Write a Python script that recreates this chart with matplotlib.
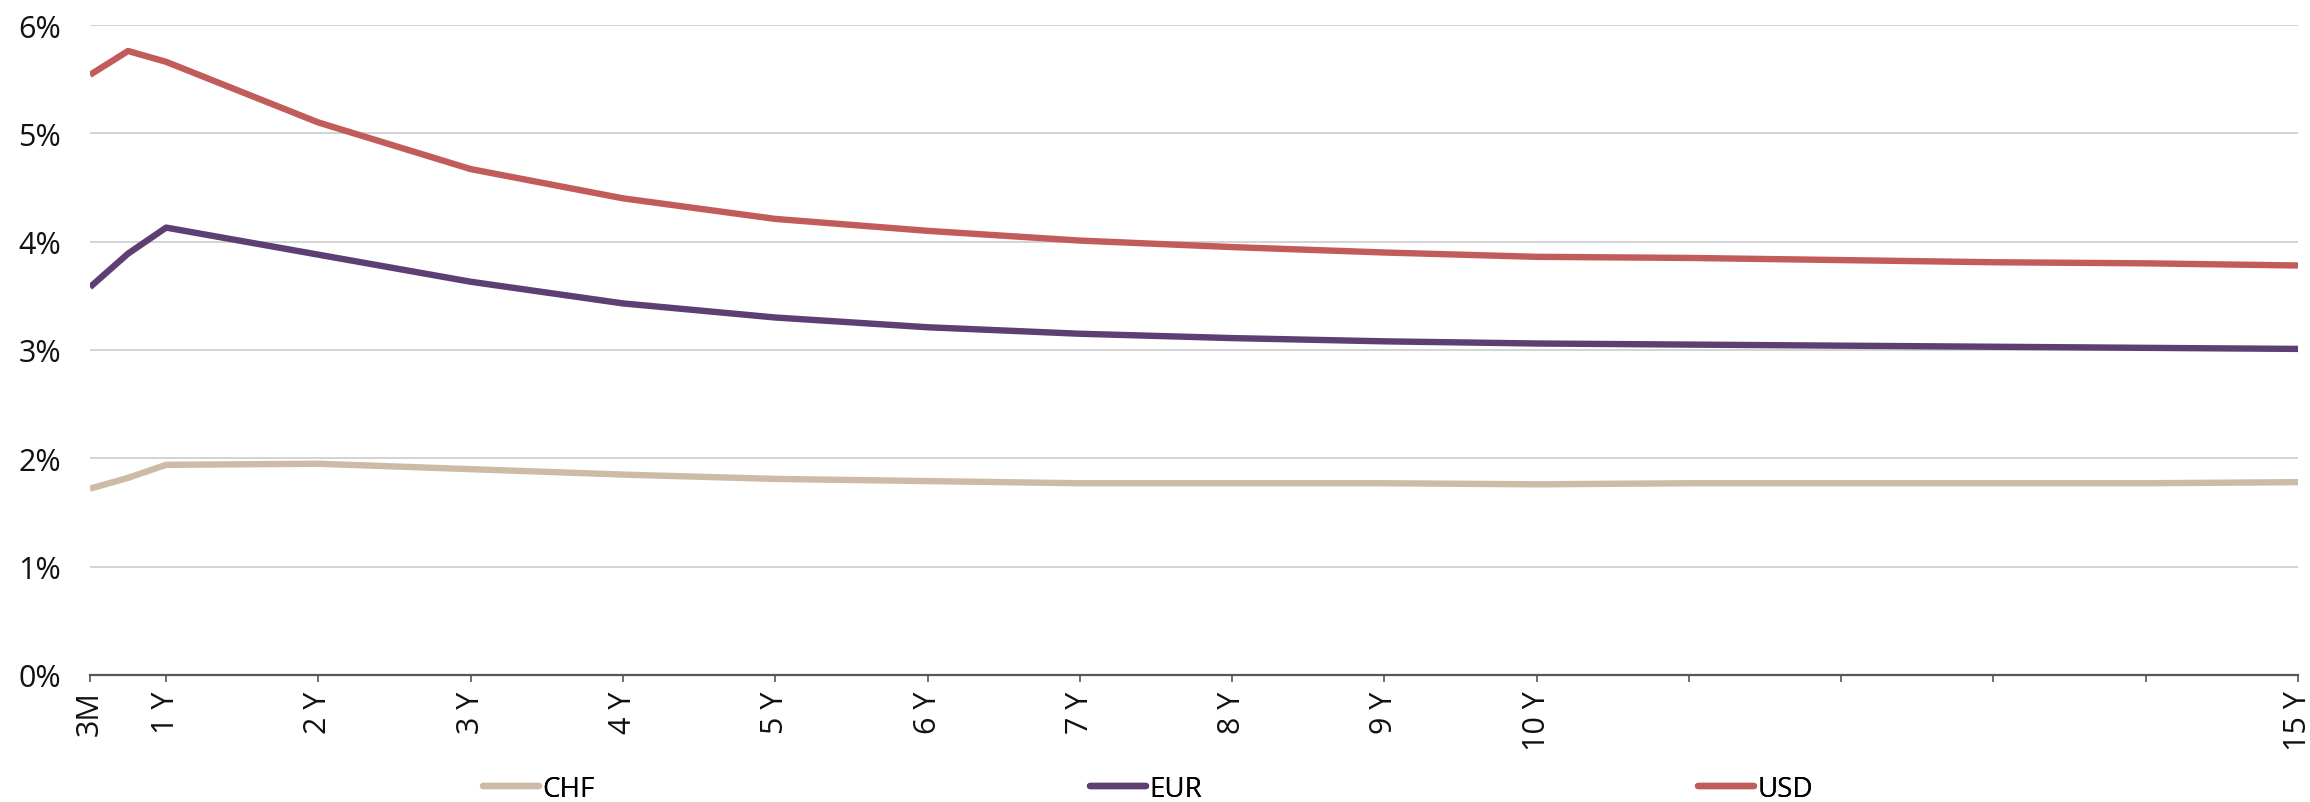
import matplotlib
matplotlib.use("Agg")
import matplotlib.pyplot as plt
from matplotlib.lines import Line2D

# ---- data ----
tenor_labels = ["3M", "6M", "1 Y", "2 Y", "3 Y", "4 Y", "5 Y", "6 Y", "7 Y", "8 Y",
                "9 Y", "10 Y", "11 Y", "12 Y", "13 Y", "14 Y", "15 Y"]
tenor_pos = [0.5, 0.75, 1, 2, 3, 4, 5, 6, 7, 8, 9, 10, 11, 12, 13, 14, 15]
chf = [1.72, 1.82, 1.94, 1.95, 1.90, 1.85, 1.81, 1.79, 1.77, 1.77, 1.77, 1.76,
       1.77, 1.77, 1.77, 1.77, 1.78]
eur = [3.58, 3.89, 4.13, 3.88, 3.63, 3.43, 3.30, 3.21, 3.15, 3.11, 3.08, 3.06,
       3.05, 3.04, 3.03, 3.02, 3.01]
usd = [5.54, 5.76, 5.66, 5.10, 4.67, 4.40, 4.21, 4.10, 4.01, 3.95, 3.90, 3.86,
       3.85, 3.83, 3.81, 3.80, 3.78]
xtick_pos = [0.5, 1, 2, 3, 4, 5, 6, 7, 8, 9, 10, 11, 12, 13, 14, 15]
xtick_labels = ["3M", "1 Y", "2 Y", "3 Y", "4 Y", "5 Y", "6 Y", "7 Y", "8 Y", "9 Y",
                "10 Y", "", "", "", "", "15 Y"]
yticks = [0, 1, 2, 3, 4, 5, 6]
ytick_labels = ["0%", "1%", "2%", "3%", "4%", "5%", "6%"]
series = [("CHF", chf, "#CDBBA8"), ("EUR", eur, "#5E3F74"), ("USD", usd, "#C25C5B")]

plt.rcParams['font.family'] = ['Open Sans', 'DejaVu Sans']

W, H = 2310, 803
fig = plt.figure(figsize=(W / 100, H / 100), dpi=100)
ax = fig.add_axes([90 / W, 1 - 676 / H, (2298 - 90) / W, (676 - 26) / H])

for name, vals, col in series:
    ax.plot(tenor_pos, vals, color=col, lw=4.6, solid_capstyle='butt',
            solid_joinstyle='round', zorder=3)

ax.set_xlim(0.5, 15)
ax.set_ylim(0, 6)
ax.set_yticks(yticks)
ax.set_yticklabels(ytick_labels, fontsize=22)
ax.set_xticks(xtick_pos)
ax.set_xticklabels(xtick_labels, fontsize=22, rotation=90)
ax.grid(axis='y', color='#D0D0D0', lw=1.3, zorder=0)
ax.set_axisbelow(True)
for s in ['top', 'right', 'left']:
    ax.spines[s].set_visible(False)
ax.spines['bottom'].set_color('#555555')
ax.spines['bottom'].set_linewidth(1.6)
ax.tick_params(axis='y', length=0, pad=21, labelcolor='#111111')
ax.tick_params(axis='x', length=5, width=1.2, color='#555555', pad=6,
               labelcolor='#111111')

# legend entries placed individually
leg_x = [483, 1090, 1698]
for (name, vals, col), lx in zip(series, leg_x):
    h = Line2D([], [], color=col, lw=4.6, solid_capstyle='round')
    lg = fig.legend([h], [name], loc='center left',
                    bbox_to_anchor=(lx / W, 1 - 790 / H), frameon=False,
                    handlelength=2.0, handletextpad=0.15, borderaxespad=0,
                    borderpad=0, fontsize=20)
    fig.add_artist(lg)

fig.savefig("out.png", dpi=100)
